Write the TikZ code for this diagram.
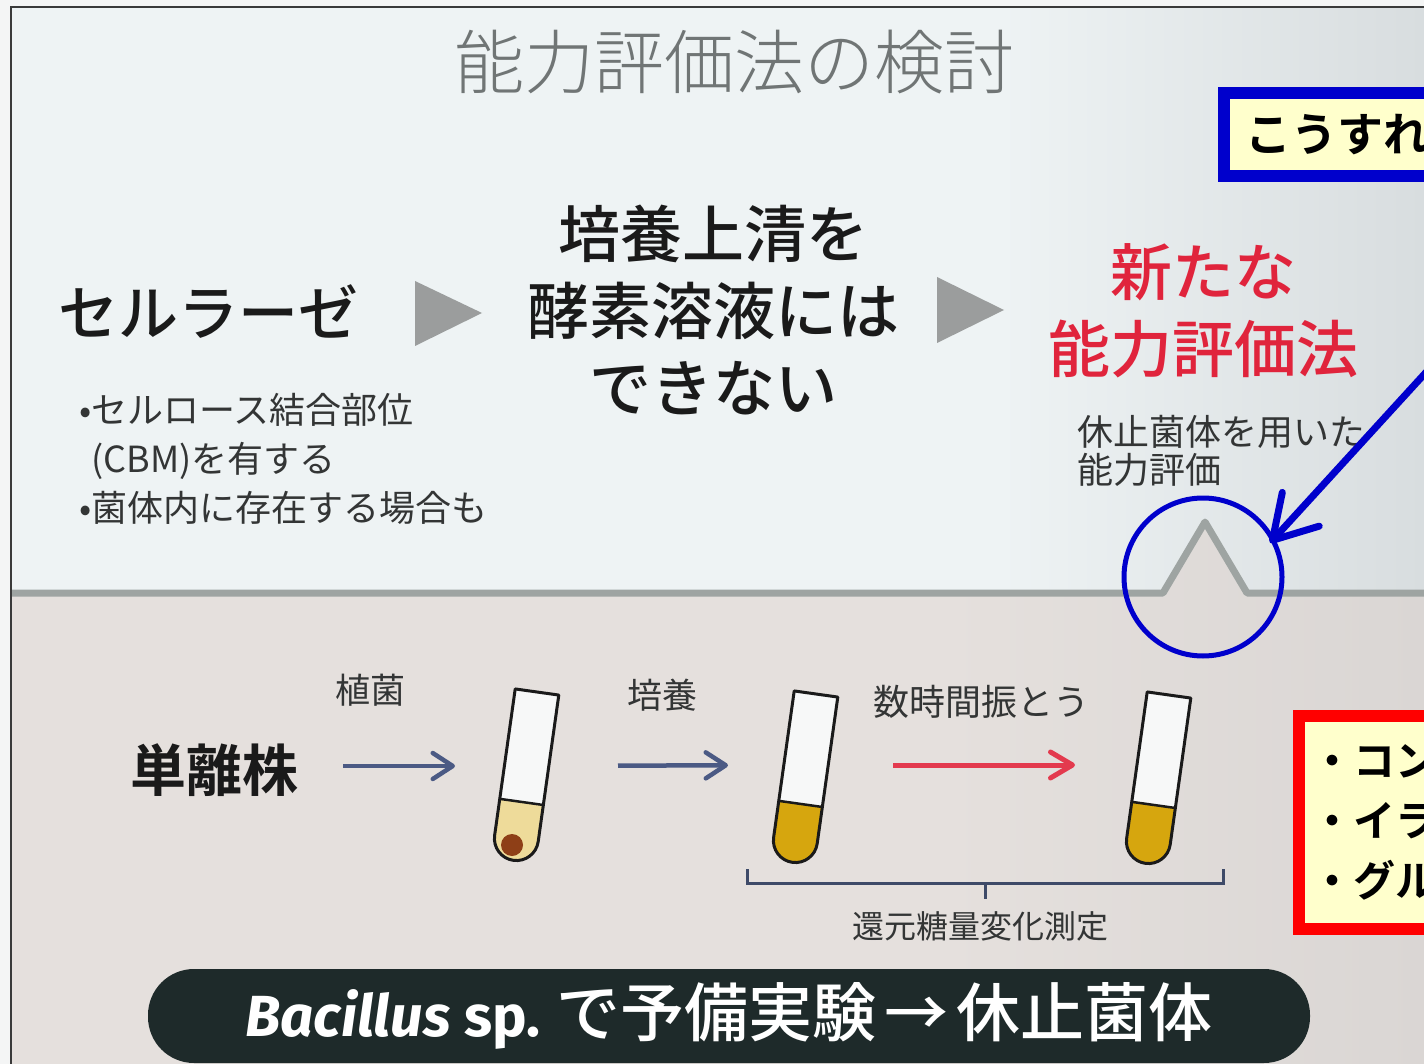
\documentclass[tikz,border=0pt]{standalone}
\usepackage{fontspec}
\setmainfont{Noto Sans CJK JP}[BoldFont={Noto Sans CJK JP Medium}]
\newfontfamily\jpheavy{Noto Sans CJK JP}[BoldFont={Noto Sans CJK JP Bold}]
\newfontfamily\jplight{Noto Sans CJK JP Light}
\newfontfamily\latinsans{Fira Sans}
\usetikzlibrary{arrows.meta}

\definecolor{outside}{HTML}{F4F5F5}
\definecolor{slidetop}{HTML}{EEF3F4}
\definecolor{slidetopR}{HTML}{D8DDDF}
\definecolor{slidebot}{HTML}{E5E0DD}
\definecolor{slidebotR}{HTML}{DAD6D4}
\definecolor{frameline}{HTML}{3A3A3A}
\definecolor{rulegray}{HTML}{9EA4A2}
\definecolor{trigray}{HTML}{9B9D9D}
\definecolor{titlegray}{HTML}{707575}
\definecolor{ink}{HTML}{1A1A1A}
\definecolor{softink}{HTML}{333535}
\definecolor{inkred}{HTML}{E0243C}
\definecolor{arrowblue}{HTML}{4B5A84}
\definecolor{arrowred}{HTML}{E33A4E}
\definecolor{bracecol}{HTML}{3E4A68}
\definecolor{pillcol}{HTML}{1E2A2A}
\definecolor{markblue}{HTML}{0000CC}
\definecolor{markred}{HTML}{FF0000}
\definecolor{notefill}{HTML}{FFFFCC}
\definecolor{glass}{HTML}{F7F8F8}
\definecolor{brothlight}{HTML}{EEDB9A}
\definecolor{broth}{HTML}{D6A60E}
\definecolor{pellet}{HTML}{8E3F17}

\pgfdeclarehorizontalshading{topfade}{100bp}{color(0bp)=(slidetop); color(25bp)=(slidetop); color(60bp)=(slidetop); color(75bp)=(slidetopR); color(100bp)=(slidetopR)}
\pgfdeclarehorizontalshading{botfade}{100bp}{color(0bp)=(slidebot); color(25bp)=(slidebot); color(58bp)=(slidebot); color(75bp)=(slidebotR); color(100bp)=(slidebotR)}

\tikzset{
  heading/.style={inner sep=0, outer sep=0, align=center, text=ink, font=\bfseries\fontsize{62}{77}\selectfont},
  smalltext/.style={inner sep=0, outer sep=0, align=left, text=softink, font=\fontsize{36}{49}\selectfont},
  steplabel/.style={inner sep=0, outer sep=0, text=softink, font=\fontsize{35}{40}\selectfont},
  notebox/.style={fill=notefill, line width=12, outer sep=0, inner ysep=0, text=black, align=left},
  flowarrow/.style={arrowblue, line width=4.5, -{Straight Barb[length=20pt,width=26pt,round]}},
  shakearrow/.style={arrowred, line width=5, -{Straight Barb[length=22pt,width=26pt,round]}},
  pics/testtube/.style={code={
    \fill[glass] (-22,0) -- (22,0) -- (22,148) arc[start angle=0,end angle=180,radius=22] -- cycle;
    \fill[#1] (-22,111) -- (22,111) -- (22,148) arc[start angle=0,end angle=180,radius=22] -- cycle;
    \draw[ink, line width=2.5] (-22,111) -- (22,111);
    \draw[ink, line width=3, line join=round] (-22,0) -- (22,0) -- (22,148) arc[start angle=0,end angle=180,radius=22] -- cycle;
  }},
}

\begin{document}
\begin{tikzpicture}[x=1pt,y=-1pt]
\clip (0,0) rectangle (1424,1064);

% slide background: upper panel, lower panel with the notch, rule and frame
\fill[outside] (0,0) rectangle (1424,1064);
\shade[shading=topfade] (11,7) rectangle (1424,1064);
\shade[shading=botfade] (11,593) -- (1163,593) -- (1205,522) -- (1247,593) -- (1424,593) -- (1424,1064) -- (11,1064) -- cycle;
\draw[rulegray, line width=7, line join=round] (11,593) -- (1163,593) -- (1205,522) -- (1247,593) -- (1424,593);
\draw[frameline, line width=2] (11,1064) -- (11,7) -- (1424,7);

% title
\node[inner sep=0, text=titlegray, font=\jplight\fontsize{70}{80}\selectfont] (title) at (734,62) {能力評価法の検討};

% reasoning chain
\node[heading, font=\bfseries\fontsize{60}{76}\selectfont] (cellulase) at (208,312) {セルラーゼ};
\node[heading] (supernatant) at (713,310) {培養上清を\\酵素溶液には\\できない};
\node[heading, text=inkred] (newmethod) at (1203,311) {新たな\\能力評価法};
\fill[trigray] (415,281) -- (482,313) -- (415,346) -- cycle;
\fill[trigray] (937,277) -- (1004,310) -- (937,343) -- cycle;

\node[smalltext, anchor=west] (cbm) at (79,459) {•セルロース結合部位\\\hphantom{•}(CBM)を有する\\•菌体内に存在する場合も};
\node[smalltext, anchor=west, font=\fontsize{36}{38}\selectfont] (resting) at (1077,451) {休止菌体を用いた\\能力評価};

% annotation boxes
\node[notebox, draw=markblue, anchor=north west, minimum height=83, inner xsep=21,
      font=\jpheavy\bfseries\fontsize{46}{50}\selectfont] (hint) at (1224,93) {こうすれ};
\node[notebox, draw=markred, anchor=north west, minimum height=213, inner xsep=12,
      font=\jpheavy\bfseries\fontsize{42}{60}\selectfont] (points) at (1299,716) {・コン\\・イラ\\・グル};

% procedure
\node[heading, font=\jpheavy\bfseries\fontsize{56}{60}\selectfont] (strain) at (214,770) {単離株};
\node[steplabel] (inoc) at (370,690) {植菌};
\node[steplabel] (culture) at (662,695) {培養};
\node[steplabel, font=\fontsize{36}{40}\selectfont] (shake) at (981,702) {数時間振とう};
\node[steplabel, font=\fontsize{32}{36}\selectfont] (measure) at (980,926) {還元糖量変化測定};

\pic[rotate=-8] at (537,692) {testtube=brothlight};
\fill[pellet] (512,845) circle[radius=11];
\pic[rotate=-8] at (816,694) {testtube=broth};
\pic[rotate=-8] at (1169,695) {testtube=broth};

\coordinate (t1) at (525,766);
\coordinate (t2) at (805,765);
\coordinate (t3) at (1158,765);
\draw[flowarrow, shorten <=45, shorten >=70] (strain.east |- t1) -- (t1);
\draw[flowarrow, shorten <=93, shorten >=77] (t1) -- (t2);
\draw[shakearrow, shorten <=88, shorten >=83] (t2) -- (t3);

\draw[bracecol, line width=3] (747,869) -- (747,883) -- (1223,883) -- (1223,869);
\draw[bracecol, line width=3] (985,883) -- (985,899);

% conclusion bar
\node[fill=pillcol, rounded corners=46, minimum width=1162, minimum height=94, inner sep=0, text=white] (result) at (729,1016)
  {{\latinsans\bfseries\itshape\fontsize{58}{60}\selectfont Bacillus}{\latinsans\bfseries\fontsize{58}{60}\selectfont\ sp.}\hspace{16pt}{\bfseries\fontsize{64}{70}\selectfont で予備実験\hspace{8pt}→\hspace{8pt}休止菌体}};

% highlight on the notch
\node[draw=markblue, line width=5, circle, minimum size=158, inner sep=0, outer sep=0] (ring) at (1203,577) {};
\coordinate (pointer) at (1440,357);
\draw[markblue, line width=7, line cap=round, shorten >=-4, -{Straight Barb[length=42pt,width=50pt,round]}] (pointer) -- (ring.28);
\end{tikzpicture}
\end{document}
